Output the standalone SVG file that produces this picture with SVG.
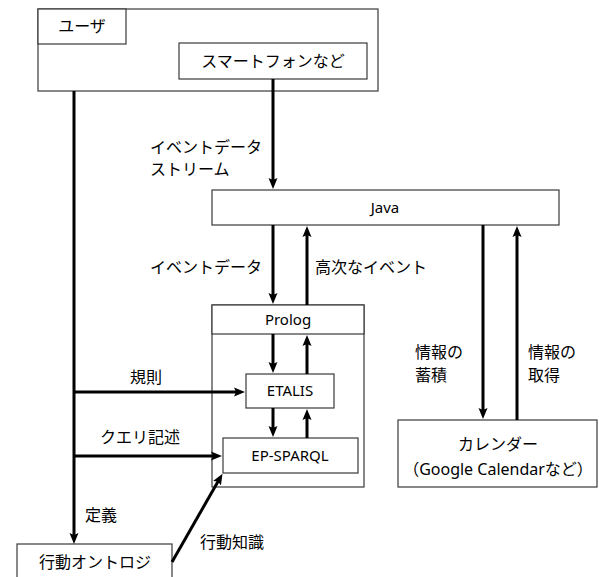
<svg xmlns="http://www.w3.org/2000/svg" width="599" height="577" viewBox="0 0 599 577">
<style>
.box{fill:#fff;stroke:#3a3a3a;stroke-width:1.2}
.t{font-family:"Noto Sans","Noto Sans CJK JP",sans-serif;font-size:16px;fill:#000}
.l{font-size:15px}
.m{text-anchor:middle}
.c{fill:none;stroke:#000;stroke-width:3}
</style>
<defs>
<marker id="ah" markerUnits="userSpaceOnUse" markerWidth="12" markerHeight="12" viewBox="0 0 12 12" refX="6" refY="6" orient="auto">
<path d="M0,1.5 L11,6 L0,10.5 L2,6 z" fill="#000"/>
</marker>
</defs>
<rect width="599" height="577" fill="#fff"/>
<g id="user">
<rect class="box" x="38" y="9" width="340" height="82"/>
<rect class="box" x="38" y="9" width="88" height="35"/>
<text class="t m" x="82" y="32">ユーザ</text>
</g>
<g id="smartphone">
<rect class="box" x="179" y="43" width="188" height="36"/>
<text class="t m" x="273" y="67">スマートフォンなど</text>
</g>
<g id="java">
<rect class="box" x="212" y="190" width="347" height="35"/>
<text class="t l m" x="385" y="213">Java</text>
</g>
<g id="prolog">
<rect class="box" x="212" y="305" width="152" height="182"/>
<rect class="box" x="212" y="305" width="152" height="29"/>
<text class="t l m" x="288" y="325">Prolog</text>
</g>
<g id="etalis">
<rect class="box" x="246" y="374" width="88" height="34"/>
<text class="t l m" x="290" y="396">ETALIS</text>
</g>
<g id="epsparql">
<rect class="box" x="223" y="438" width="135" height="35"/>
<text class="t l m" x="290" y="461">EP-SPARQL</text>
</g>
<g id="calendar">
<rect class="box" x="398" y="420" width="199" height="67"/>
<text class="t m" x="498" y="450">カレンダー</text>
<text class="t m" x="498" y="475">（Google Calendarなど）</text>
</g>
<g id="ontology">
<rect class="box" x="17" y="544" width="155" height="40"/>
<text class="t m" x="95" y="568">行動オントロジ</text>
</g>
<g id="connectors">
<path class="c" d="M74,91 V539" marker-end="url(#ah)"/>
<path class="c" d="M273,79 V184" marker-end="url(#ah)"/>
<path class="c" d="M273,225 V299" marker-end="url(#ah)"/>
<path class="c" d="M307,305 V231" marker-end="url(#ah)"/>
<path class="c" d="M483,225 V414" marker-end="url(#ah)"/>
<path class="c" d="M517,420 V231" marker-end="url(#ah)"/>
<path class="c" d="M273,334 V368" marker-end="url(#ah)"/>
<path class="c" d="M307,374 V340" marker-end="url(#ah)"/>
<path class="c" d="M273,408 V432" marker-end="url(#ah)"/>
<path class="c" d="M307,438 V414" marker-end="url(#ah)"/>
<path class="c" d="M74,392 H240" marker-end="url(#ah)"/>
<path class="c" d="M74,456 H217" marker-end="url(#ah)"/>
<path class="c" d="M172,562 L220,478" marker-end="url(#ah)"/>
</g>
<g id="labels">
<text class="t" x="150" y="153">イベントデータ</text>
<text class="t" x="150" y="175">ストリーム</text>
<text class="t" x="150" y="273">イベントデータ</text>
<text class="t" x="315" y="273">高次なイベント</text>
<text class="t" x="415" y="358">情報の</text>
<text class="t" x="415" y="381">蓄積</text>
<text class="t" x="528" y="358">情報の</text>
<text class="t" x="528" y="381">取得</text>
<text class="t" x="130" y="383">規則</text>
<text class="t" x="100" y="443">クエリ記述</text>
<text class="t" x="85" y="521">定義</text>
<text class="t" x="200" y="548">行動知識</text>
</g>
</svg>
